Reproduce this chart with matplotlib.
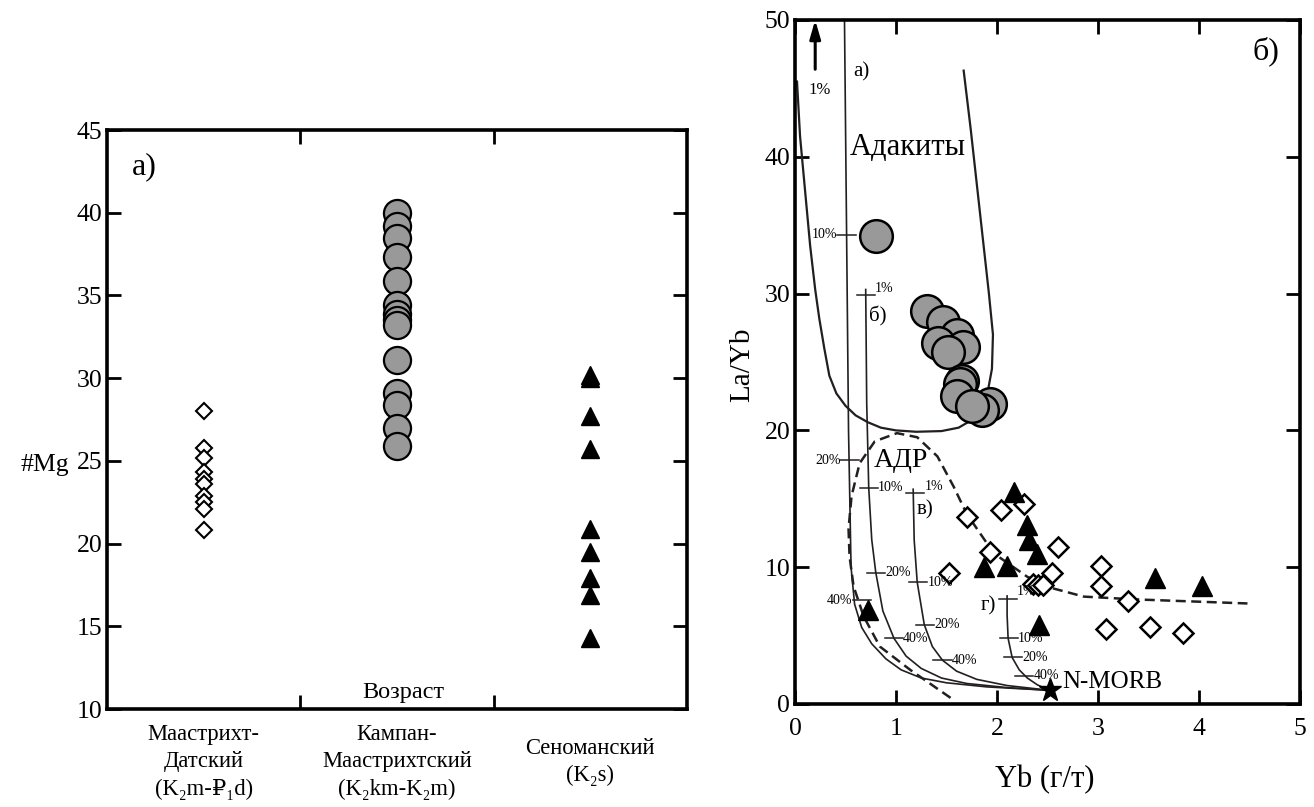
import matplotlib
matplotlib.use('Agg')
import matplotlib.pyplot as plt
from matplotlib.transforms import blended_transform_factory

plt.rcParams['font.family'] = ['Liberation Serif', 'DejaVu Serif', 'DejaVu Sans']

# ---------------- panel а) data ----------------
age_labels = ['Маастрихт-\nДатский\n(K₂m-₽₁d)',
              'Кампан-\nМаастрихтский\n(K₂km-K₂m)',
              'Сеноманский\n(K₂s)']
age_pos = [0.5, 1.5, 2.5]
mg_maastr_dan = [28.0, 25.8, 25.2, 24.3, 23.9, 23.6, 22.9, 22.5, 22.1, 20.8]
mg_camp_maastr = [40.0, 39.2, 38.5, 37.3, 35.9, 34.4, 33.9, 33.5, 33.2,
                  31.1, 29.1, 28.4, 27.0, 25.9]
mg_cenoman = [30.2, 30.0, 27.7, 25.7, 20.9, 19.5, 17.9, 16.9, 14.3]
mg_yticks = [10, 15, 20, 25, 30, 35, 40, 45]

# ---------------- panel б) data ----------------
yb_circ = [0.80, 1.31, 1.465, 1.60, 1.42, 1.66, 1.51, 1.65, 1.63, 1.60, 1.93, 1.85, 1.75]
layb_circ = [34.2, 28.7, 27.9, 27.0, 26.4, 26.1, 25.7, 23.6, 23.4, 22.5, 21.9, 21.5, 21.8]

yb_diam = [1.70, 1.52, 1.93, 2.04, 2.27, 2.60, 2.54, 2.36, 2.41, 2.46,
           3.03, 3.03, 3.30, 3.08, 3.51, 3.84]
layb_diam = [13.7, 9.6, 11.1, 14.2, 14.6, 11.5, 9.6, 8.8, 8.7, 8.7,
             10.1, 8.65, 7.5, 5.5, 5.65, 5.2]

yb_tri = [2.17, 2.30, 2.32, 2.40, 1.875, 2.10, 0.72, 2.42, 3.56, 4.03]
layb_tri = [15.5, 13.1, 12.0, 11.0, 10.0, 10.1, 6.9, 5.8, 9.2, 8.6]

nmorb_yb = [2.52]
nmorb_layb = [1.0]

# Adakite field outline
adak_x = [1.67, 1.74, 1.80, 1.86, 1.92, 1.96, 1.95, 1.91, 1.85, 1.76, 1.62, 1.45, 1.20, 1.0,
          0.85, 0.72, 0.60, 0.50, 0.41, 0.34, 0.29, 0.24, 0.20, 0.15, 0.10, 0.05, 0.02]
adak_y = [46.3, 42.0, 38.0, 34.0, 30.0, 27.0, 24.5, 22.9, 21.7, 20.8, 20.2, 19.95, 19.9, 20.0,
          20.2, 20.6, 21.1, 21.8, 22.7, 24.0, 26.0, 28.2, 30.3, 33.5, 37.5, 41.5, 45.5]

# АДР field (dashed)
adr_x = [1.54, 1.14, 0.84, 0.68, 0.58, 0.54, 0.53, 0.56, 0.64, 0.79, 1.01, 1.21, 1.41, 1.57, 1.70,
         1.97, 2.30, 2.53, 2.86, 3.36, 4.48]
adr_y = [0.45, 2.5, 4.2, 6.4, 8.6, 10.8, 12.8, 15.2, 17.6, 19.2, 19.8, 19.5, 18.1, 15.9, 13.9,
         11.0, 9.3, 8.5, 7.85, 7.65, 7.35]

# melting curves а)-г)
curve_a_x = [0.49, 0.51, 0.53, 0.555, 0.59, 0.66, 0.76, 0.90, 1.05, 1.25, 1.50, 1.90, 2.52]
curve_a_y = [50.0, 35.0, 20.0, 10.0, 7.3, 5.6, 4.4, 3.3, 2.5, 1.9, 1.55, 1.25, 1.0]
curve_b_x = [0.70, 0.71, 0.73, 0.76, 0.80, 0.87, 0.98, 1.10, 1.25, 1.45, 1.70, 2.10, 2.52]
curve_b_y = [30.3, 22.0, 15.8, 12.0, 9.6, 6.8, 4.8, 3.5, 2.6, 1.9, 1.5, 1.2, 1.0]
curve_c_x = [1.17, 1.18, 1.21, 1.28, 1.36, 1.46, 1.60, 1.80, 2.10, 2.52]
curve_c_y = [15.7, 12.0, 8.9, 5.8, 4.2, 3.2, 2.4, 1.8, 1.35, 1.0]
curve_d_x = [2.10, 2.10, 2.11, 2.15, 2.22, 2.30, 2.40, 2.52]
curve_d_y = [7.9, 6.5, 4.8, 3.4, 2.5, 1.9, 1.4, 1.0]

# percentage ticks on the curves: (x centre, y, label, side)
pct_x = [0.51, 0.54, 0.66, 0.70, 0.73, 0.80, 0.98, 1.19, 1.22, 1.29, 1.46, 2.11, 2.12, 2.16, 2.27]
pct_y = [34.3, 17.8, 7.6, 29.9, 15.8, 9.6, 4.8, 15.4, 8.9, 5.8, 3.2, 7.7, 4.8, 3.4, 2.05]
pct_lab = ['10%', '20%', '40%', '1%', '10%', '20%', '40%', '1%', '10%', '20%', '40%',
           '1%', '10%', '20%', '40%']
pct_side = ['l', 'l', 'l', 'r', 'r', 'r', 'r', 'r', 'r', 'r', 'r', 'r', 'r', 'r', 'r']

W, H = 1314, 807
fig = plt.figure(figsize=(W / 100, H / 100), dpi=100)

# ================= panel а) =================
ax1 = fig.add_axes([107 / W, 1 - 709 / H, (687 - 107) / W, (709 - 130) / H])
ax1.set_xlim(0, 3)
ax1.set_ylim(10, 45)
ax1.plot([age_pos[0]] * len(mg_maastr_dan), mg_maastr_dan, 'D', ms=8,
         mfc='white', mec='black', mew=1.5, ls='none')
ax1.plot([age_pos[1]] * len(mg_camp_maastr), mg_camp_maastr, 'o', ms=19.5,
         mfc='#999999', mec='black', mew=1.6, ls='none')
ax1.plot([age_pos[2]] * len(mg_cenoman), mg_cenoman, '^', ms=13,
         mfc='black', mec='black', mew=1, ls='none')
ax1.set_yticks(mg_yticks)
ax1.set_xticks([1, 2])
ax1.set_xticklabels([])
ax1.tick_params(axis='both', direction='in', length=10, width=2,
                left=True, right=True, top=True, bottom=True, labelsize=18.5)
for s in ax1.spines.values():
    s.set_linewidth(2.6)
tr = blended_transform_factory(ax1.transData, ax1.transAxes)
for xp, lab in zip(age_pos, age_labels):
    ax1.text(xp, -(762 - 709) / 579, lab, transform=tr, ha='center', va='center',
             fontsize=16.3, linespacing=1.38)
ax1.text(1.53, 10.35, 'Возраст', ha='center', va='bottom', fontsize=17.5)
ax1.text(0.13, 42.8, 'а)', ha='left', va='center', fontsize=23)
fig.text(45 / W, 1 - 465 / H, '#Mg', ha='center', va='center', fontsize=18.5)

# ================= panel б) =================
ax2 = fig.add_axes([795 / W, 1 - 704 / H, (1300 - 795) / W, (704 - 20) / H])
ax2.set_xlim(0, 5)
ax2.set_ylim(0, 50)
ax2.set_xticks([0, 1, 2, 3, 4, 5])
ax2.set_yticks([0, 10, 20, 30, 40, 50])
ax2.tick_params(axis='both', direction='in', length=10, width=2,
                left=True, right=True, top=True, bottom=True, labelsize=18.5)
ax2.tick_params(axis='x', pad=10)
for s in ax2.spines.values():
    s.set_linewidth(2.6)

lc = '#231f20'
ax2.plot(adak_x, adak_y, color=lc, lw=1.6)
ax2.plot(adr_x, adr_y, color=lc, lw=1.8, ls=(0, (4, 2.2)))
for cx, cy in [(curve_a_x, curve_a_y), (curve_b_x, curve_b_y),
               (curve_c_x, curve_c_y), (curve_d_x, curve_d_y)]:
    ax2.plot(cx, cy, color=lc, lw=1.2)
half = 0.09
for x, y, lab, side in zip(pct_x, pct_y, pct_lab, pct_side):
    ax2.plot([x - half, x + half], [y, y], color=lc, lw=1.1)
    if side == 'l':
        ax2.text(x - half, y, lab, ha='right', va='center', fontsize=10)
    else:
        ax2.text(x + half, y + (0.5 if lab == '1%' else 0), lab, ha='left',
                 va='center', fontsize=10)

ax2.annotate('', xy=(0.2, 50), xytext=(0.2, 46.4),
             arrowprops=dict(arrowstyle='-|>,head_length=1.1,head_width=0.32',
                             color='black', lw=2.2, shrinkA=0, shrinkB=0))
ax2.text(0.24, 44.9, '1%', ha='center', va='center', fontsize=12)
ax2.text(0.58, 46.2, 'а)', ha='left', va='center', fontsize=15)
ax2.text(0.73, 28.3, 'б)', ha='left', va='center', fontsize=15)
ax2.text(1.20, 14.2, 'в)', ha='left', va='center', fontsize=15)
ax2.text(1.84, 7.2, 'г)', ha='left', va='center', fontsize=15)
ax2.text(1.12, 40.7, 'Адакиты', ha='center', va='center', fontsize=22)
ax2.text(1.05, 17.8, 'АДР', ha='center', va='center', fontsize=20)
ax2.text(2.65, 1.6, 'N-MORB', ha='left', va='center', fontsize=18)
ax2.text(4.80, 47.7, 'б)', ha='right', va='center', fontsize=23)

ax2.plot(yb_circ, layb_circ, 'o', ms=23.5, mfc='#999999', mec='black', mew=1.8, ls='none')
ax2.plot(yb_diam, layb_diam, 'D', ms=10, mfc='white', mec='black', mew=1.8, ls='none')
ax2.plot(yb_tri, layb_tri, '^', ms=14.5, mfc='black', mec='black', mew=1, ls='none')
ax2.plot(nmorb_yb, nmorb_layb, '*', ms=17, mfc='black', mec='black', ls='none')

fig.text(1045 / W, 1 - 780 / H, 'Yb (г/т)', ha='center', va='center', fontsize=22)
fig.text(742 / W, 1 - 365 / H, 'La/Yb', ha='center', va='center', fontsize=21, rotation=90)

fig.savefig('out.png', dpi=100)
